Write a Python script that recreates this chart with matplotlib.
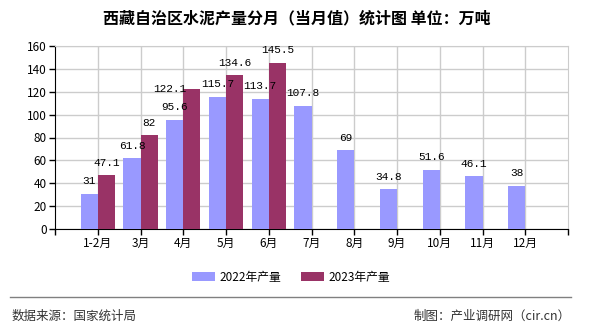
import matplotlib
matplotlib.use("Agg")
import matplotlib.pyplot as plt
import numpy as np

plt.rcParams['font.family'] = ['Noto Sans CJK SC', 'DejaVu Sans']

categories = ['1-2月', '3月', '4月', '5月', '6月', '7月', '8月', '9月', '10月', '11月', '12月']
values_2022 = [31, 61.8, 95.6, 115.7, 113.7, 107.8, 69, 34.8, 51.6, 46.1, 38]
values_2023 = [47.1, 82, 122.1, 134.6, 145.5]
labels_2022 = ['31', '61.8', '95.6', '115.7', '113.7', '107.8', '69', '34.8', '51.6', '46.1', '38']
labels_2023 = ['47.1', '82', '122.1', '134.6', '145.5']
series_names = ['2022年产量', '2023年产量']
colors = ['#9999FF', '#993366']
yticks = [0, 20, 40, 60, 80, 100, 120, 140, 160]

fig = plt.figure(figsize=(5.9, 3.3), dpi=100)
ax = fig.add_axes([55/590, 1-229/330, (568-55)/590, (229-46)/330])

x = np.arange(len(categories))
w = 0.4
b1 = ax.bar(x - w/2, values_2022, w, color=colors[0], label=series_names[0], zorder=3)
x2 = np.arange(len(values_2023))
b2 = ax.bar(x2 + w/2, values_2023, w, color=colors[1], label=series_names[1], zorder=3)

px = 0.72  # points per pixel at 100 dpi
lab_font = dict(family='Liberation Mono', fontsize=8, color='#000000')
# label placement: centered 12.5 px above bar top
for xi, v, t in zip(x - w/2, values_2022, labels_2022):
    ax.annotate(t, (xi, v), xytext=(0, 12.5*px), textcoords='offset points',
                ha='center', va='center', zorder=4, **lab_font)
for i, (xi, v, t) in enumerate(zip(x2 + w/2, values_2023, labels_2023)):
    dx, dy = 0, 12.5
    if i == 2:  # label pushed aside by the chart library in the reference
        dx, dy = -22, 0
    ax.annotate(t, (xi, v), xytext=(dx*px, dy*px), textcoords='offset points',
                ha='center', va='center', zorder=4, **lab_font)

ax.set_xlim(-1, len(categories))
ax.set_ylim(0, 160)
ax.set_yticks(yticks)
ax.set_xticks(x)
ax.set_xticklabels(categories, fontsize=8.5)
ax.set_xticks([-1, len(categories)], minor=True)
ax.tick_params(axis='y', labelsize=8.5, length=4, width=1, pad=2)
ax.tick_params(axis='x', which='both', length=4, width=1, pad=2)
ax.grid(True, color='#cccccc', linewidth=1, zorder=0)
for s in ['top', 'right']:
    ax.spines[s].set_color('#cccccc')
ax.spines['left'].set_color('#000000')
ax.spines['bottom'].set_color('#000000')

fig.text(297/590, 1-18/330, '西藏自治区水泥产量分月（当月值）统计图 单位：万吨', ha='center', va='center',
         fontsize=11.5, fontweight='bold')

fig.legend(handles=[b1, b2], labels=series_names, loc='center', bbox_to_anchor=(291/590, 1-277/330),
           ncol=2, frameon=False, fontsize=8.5, handlelength=2.0, handleheight=0.9, columnspacing=1.6, handletextpad=0.4)

fig.add_artist(plt.Line2D([10/590, 571/590], [1-297/330, 1-297/330], color='#808080', linewidth=1))
fig.text(12/590, 1-316/330, '数据来源：国家统计局', ha='left', va='center', fontsize=9, color='#333333')
fig.text(571/590, 1-316/330, '制图：产业调研网（cir.cn）', ha='right', va='center', fontsize=9, color='#333333')

fig.savefig('out.png', dpi=100)
